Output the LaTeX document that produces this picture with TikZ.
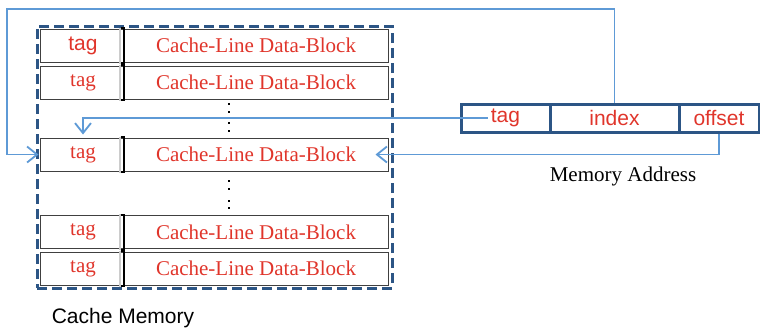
\documentclass[tikz,border=0pt]{standalone}
\usepackage{fontspec}
\setmainfont{Liberation Serif}
\setsansfont{Liberation Sans}
\usetikzlibrary{arrows.meta,positioning,calc}
\definecolor{cachered}{HTML}{E0352B}
\definecolor{darkblue}{HTML}{2C5585}
\definecolor{lightblue}{HTML}{5E9AD6}
\tikzset{
  rowbox/.style={draw=black!75, line width=1pt, minimum width=348pt, minimum height=33pt, inner sep=0pt},
  tagtext/.style={text=cachered, font=\rmfamily\fontsize{21}{24}\selectfont},
  addrcell/.style={draw=darkblue, line width=3pt, minimum height=28pt, inner sep=0pt, text=cachered, font=\sffamily\fontsize{21}{24}\selectfont},
  addrline/.style={draw=lightblue, line width=1.8pt, -{Straight Barb[length=10pt,width=16pt,line width=1.8pt]}},
  dotmark/.style={fill=black, minimum size=2.2pt, inner sep=0pt}
}
\newcommand{\tagbracket}[1]{%
  \draw[black!20, line width=2.5pt] ($(#1.north west)+(80.5,-1)$) -- ($(#1.south west)+(80.5,1)$);
  \draw[black, line width=2pt] ($(#1.north west)+(81,-0.5)$) -- ($(#1.north west)+(84,-0.5)$) -- ($(#1.south west)+(84,0.5)$) -- ($(#1.south west)+(81,0.5)$);}
\begin{document}
\begin{tikzpicture}[x=1pt, y=-1pt]
			%%%%% START %%%%%
			\useasboundingbox (0,0) rectangle (760,330);
			
			\node[draw=darkblue, line width=3pt, dash pattern=on 10pt off 5pt, minimum width=355pt, minimum height=262pt] (cache) at (214.5,157) {};
			
			\node[rowbox] (r1) at (214,45.5) {};
			\node[rowbox] (r2) at (214,82.5) {};
			\node[rowbox] (r3) at (214,154.5) {};
			\node[rowbox] (r4) at (214,232) {};
			\node[rowbox] (r5) at (214,268.5) {};
			\tagbracket{r1}
			\tagbracket{r2}
			\tagbracket{r3}
			\tagbracket{r4}
			\tagbracket{r5}
			
			\node[tagtext, font=\sffamily\fontsize{21}{24}\selectfont] (t1) at (83,45.5) {tag};
			\node[tagtext] (t2) at (83,82.5) {tag};
			\node[tagtext] (t3) at (83,154.5) {tag};
			\node[tagtext] (t4) at (83,232) {tag};
			\node[tagtext] (t5) at (83,268.5) {tag};
			\node[tagtext] (d1) at (256,45.5) {Cache-Line Data-Block};
			\node[tagtext] (d2) at (256,82.5) {Cache-Line Data-Block};
			\node[tagtext] (d3) at (256,154.5) {Cache-Line Data-Block};
			\node[tagtext] (d4) at (256,232) {Cache-Line Data-Block};
			\node[tagtext] (d5) at (256,268.5) {Cache-Line Data-Block};
			
			\node[dotmark] at (229,104) {};
			\node[dotmark] at (229,112) {};
			\node[dotmark] at (229,123) {};
			\node[dotmark] at (229,131) {};
			\node[dotmark] at (229,181) {};
			\node[dotmark] at (229,189) {};
			\node[dotmark] at (229,201) {};
			\node[dotmark] at (229,208) {};
			
			\node[font=\sffamily\fontsize{21}{24}\selectfont] (cachelabel) at (123,318) {Cache Memory};
			
			\node[addrcell, minimum width=89pt] (atag) at (505.5,118) {tag};
			\node[addrcell, minimum width=129pt] (aidx) at (614.5,118) {index};
			\node[addrcell, minimum width=80pt] (aoff) at (719,118) {offset};
			\node[font=\rmfamily\fontsize{21}{24}\selectfont] (addrlabel) at (623,176) {Memory Address};
			
			\coordinate (topleft) at (7,9);
			\draw[addrline, shorten >=1pt] (aidx.north) |- (topleft) |- (r3.west);
			\draw[addrline, shorten >=3pt] (atag.west) ++(28,0) coordinate (tagstart) -| (t3.north |- r3.north);
			\draw[addrline, shorten >=-13pt] (aoff.south) |- (r3.east);
			
			%%%%% END %%%%%
\end{tikzpicture}
\end{document}
